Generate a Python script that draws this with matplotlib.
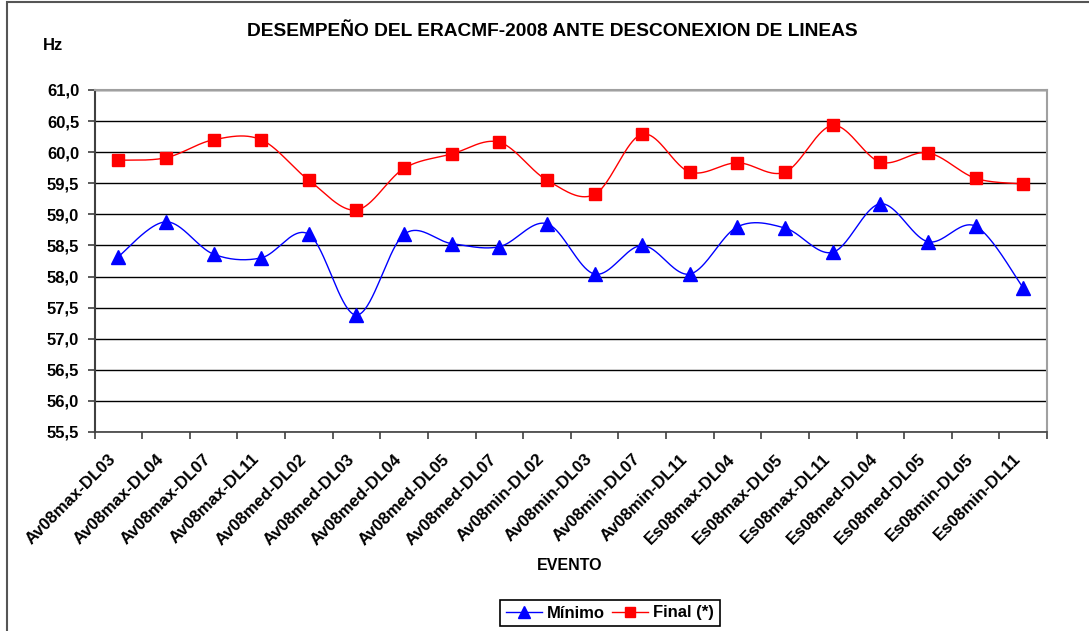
import numpy as np
import matplotlib.pyplot as plt
from matplotlib.lines import Line2D
from matplotlib.patches import Rectangle
from matplotlib.transforms import ScaledTranslation

plt.rcParams['font.family'] = ['Liberation Sans', 'DejaVu Sans']
plt.rcParams['font.weight'] = 'bold'

eventos = ["Av08max-DL03", "Av08max-DL04", "Av08max-DL07", "Av08max-DL11",
           "Av08med-DL02", "Av08med-DL03", "Av08med-DL04", "Av08med-DL05",
           "Av08med-DL07", "Av08min-DL02", "Av08min-DL03", "Av08min-DL07",
           "Av08min-DL11", "Es08max-DL04", "Es08max-DL05", "Es08max-DL11",
           "Es08med-DL04", "Es08med-DL05", "Es08min-DL05", "Es08min-DL11"]
minimo = [58.32, 58.88, 58.36, 58.30, 58.68, 57.38, 58.68, 58.53, 58.48, 58.85,
          58.04, 58.50, 58.04, 58.80, 58.78, 58.39, 59.17, 58.56, 58.81, 57.82]
final = [59.87, 59.91, 60.20, 60.20, 59.55, 59.07, 59.74, 59.97, 60.16, 59.55,
         59.32, 60.29, 59.68, 59.83, 59.68, 60.43, 59.84, 59.99, 59.58, 59.49]
yticks = np.arange(55.5, 61.01, 0.5)


def smooth(vals):
    # Excel-like smoothed line (Bezier segments through every point)
    pts = np.column_stack([np.arange(len(vals)), vals]).astype(float)
    n = len(pts)
    t = np.linspace(0, 1, 40)[:, None]
    out = []
    for i in range(n - 1):
        p0, p3 = pts[i], pts[i + 1]
        prev = pts[max(i - 1, 0)]
        nxt = pts[min(i + 2, n - 1)]
        c1 = p0 + (p3 - prev) / 6
        c2 = p3 - (nxt - p0) / 6
        seg = ((1 - t) ** 3) * p0 + 3 * ((1 - t) ** 2) * t * c1 + 3 * (1 - t) * t ** 2 * c2 + t ** 3 * p3
        out.append(seg)
    seg = np.vstack(out)
    return seg[:, 0], seg[:, 1]


W, H = 1089, 631
fig = plt.figure(figsize=(W / 100, H / 100), dpi=100)
ax = fig.add_axes([94.5 / W, 1 - 432 / H, (1047 - 94.5) / W, 342 / H])

x = np.arange(len(eventos))
sx, sy = smooth(minimo)
ax.plot(sx, sy, color='#0000FF', lw=1.0, zorder=3)
ax.plot(x, minimo, ls='none', marker='^', ms=10, color='#0000FF', zorder=4)
sx, sy = smooth(final)
ax.plot(sx, sy, color='#FF0000', lw=1.0, zorder=3)
ax.plot(x, final, ls='none', marker='s', ms=9.3, color='#FF0000', zorder=4)

ax.set_xlim(-0.5, len(eventos) - 0.5)
ax.set_ylim(55.5, 61.0)
ax.set_yticks(yticks)
ax.set_yticklabels([f"{v:.1f}".replace('.', ',') for v in yticks])
ax.yaxis.grid(True, color='black', lw=1.0)
ax.set_axisbelow(True)

ax.set_xticks(np.arange(-0.5, len(eventos)), [])
ax.set_xticks(x, eventos, minor=True)
ax.tick_params(axis='x', which='minor', length=0, pad=6, labelsize=12.2)
ax.tick_params(axis='x', which='major', length=5, width=1.2, color='#404040')
ax.tick_params(axis='y', length=5, width=1.2, color='#404040', pad=6, labelsize=12)
shift = ScaledTranslation(-0.10, -0.11, fig.dpi_scale_trans)
for lbl in ax.get_xticklabels(minor=True):
    lbl.set_rotation(45)
    lbl.set_ha('right')
    lbl.set_va('top')
    lbl.set_rotation_mode('anchor')
    lbl.set_fontweight('bold')
    lbl.set_transform(lbl.get_transform() + shift)
for lbl in ax.get_yticklabels():
    lbl.set_fontweight('bold')

ax.spines['left'].set_color('#404040')
ax.spines['left'].set_linewidth(1.5)
ax.spines['bottom'].set_color('#404040')
ax.spines['bottom'].set_linewidth(1.2)
ax.spines['top'].set_color('#a0a0a0')
ax.spines['right'].set_color('#a0a0a0')
ax.spines['top'].set_linewidth(1.5)
ax.spines['right'].set_linewidth(1.5)

fig.text(552 / W, 1 - 32 / H, "DESEMPEÑO DEL ERACMF-2008 ANTE DESCONEXION DE LINEAS",
         ha='center', va='center', fontsize=13.8, fontweight='bold')
fig.text(53 / W, 1 - 45 / H, "Hz", ha='center', va='center', fontsize=12, fontweight='bold')
fig.text(570 / W, 1 - 565 / H, "EVENTO", ha='center', va='center', fontsize=11.5, fontweight='bold')

handles = [Line2D([], [], color='#0000FF', lw=1.0, marker='^', ms=8),
           Line2D([], [], color='#FF0000', lw=1.0, marker='s', ms=7.5)]
leg = fig.legend(handles, ["Mínimo", "Final (*)"], loc='center',
                 bbox_to_anchor=(610 / W, 1 - 613 / H), ncol=2, frameon=True,
                 fancybox=False, framealpha=1, edgecolor='black',
                 handlelength=2.15, handletextpad=0.3, columnspacing=0.45,
                 borderpad=0.35, borderaxespad=0,
                 prop={'weight': 'bold', 'size': 12})
leg.get_frame().set_linewidth(1.2)

fig.patches.append(Rectangle((7 / W, -0.1), 1.2, 1 - 1.5 / H + 0.1,
                             transform=fig.transFigure, fill=False,
                             edgecolor='#555555', lw=1.5))

fig.savefig('out.png', dpi=100)
